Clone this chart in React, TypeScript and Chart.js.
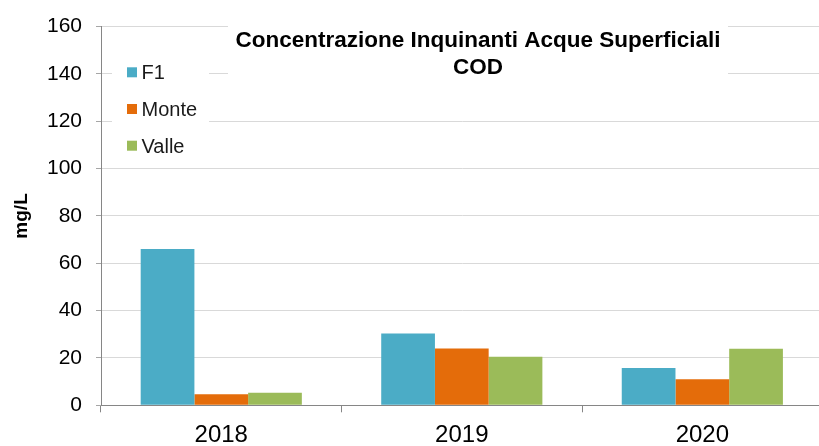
import React, { useEffect, useRef } from "react";
import { Chart, registerables } from "chart.js";

Chart.register(...registerables);

const categories = ["2018", "2019", "2020"];
const seriesNames = ["F1", "Monte", "Valle"];
const f1Values = [66, 30.3, 15.8];
const monteValues = [4.7, 24.0, 11.0];
const valleValues = [5.3, 20.5, 23.9];
const seriesColors = ["#4bacc6", "#e46c0a", "#9bbb59"];
const titleLines = ["Concentrazione Inquinanti Acque Superficiali", "COD"];
const yAxisTitle = "mg/L";
const yMin = 0;
const yMax = 160;
const yStep = 20;

const FONT = "'Liberation Sans', Arial, Helvetica, sans-serif";

const overlayPlugin = {
  id: "overlayTitleLegend",
  afterDatasetsDraw(chart: any) {
    const ctx = chart.ctx as CanvasRenderingContext2D;
    ctx.save();
    // Title box
    ctx.fillStyle = "#ffffff";
    ctx.fillRect(228, 8, 500, 92);
    ctx.fillStyle = "#000000";
    ctx.font = `bold 22.5px ${FONT}`;
    ctx.textAlign = "center";
    ctx.textBaseline = "alphabetic";
    ctx.fillText(titleLines[0], 478, 46.7);
    ctx.fillText(titleLines[1], 478, 73.5);
    // Legend box
    ctx.fillStyle = "#ffffff";
    ctx.fillRect(112, 50, 97, 110);
    ctx.font = `20px ${FONT}`;
    ctx.textAlign = "left";
    const baselines = [79.3, 116, 152.7];
    chart.data.datasets.forEach((ds: any, i: number) => {
      const b = baselines[i];
      ctx.fillStyle = ds.backgroundColor;
      ctx.fillRect(127, b - 12, 10, 10);
      ctx.fillStyle = "#1a1a1a";
      ctx.fillText(ds.label, 141.5, b);
    });
    ctx.restore();
  },
};

export default function App() {
  const canvasRef = useRef<HTMLCanvasElement | null>(null);

  useEffect(() => {
    if (!canvasRef.current) return;
    const valuesList = [f1Values, monteValues, valleValues];
    const chart = new Chart(canvasRef.current, {
      type: "bar",
      data: {
        labels: categories,
        datasets: seriesNames.map((name, i) => ({
          label: name,
          data: valuesList[i],
          backgroundColor: seriesColors[i],
          borderWidth: 0,
          categoryPercentage: 0.67,
          barPercentage: 1,
        })),
      },
      options: {
        animation: false,
        responsive: false,
        devicePixelRatio: 1,
        layout: { padding: { top: 23.7, right: 7.4, left: 0, bottom: 0 } },
        plugins: {
          legend: { display: false },
          title: { display: false },
          tooltip: { enabled: false },
        },
        font: { family: FONT },
        scales: {
          x: {
            type: "category",
            offset: true,
            grid: {
              display: true,
              offset: true,
              drawOnChartArea: false,
              drawTicks: true,
              tickLength: 7,
              color: "#868686",
            },
            border: { display: true, color: "#868686" },
            ticks: {
              color: "#000000",
              padding: 9,
              font: { family: FONT, size: 24 },
              maxRotation: 0,
            },
            afterFit(scale: any) {
              scale.height = 40.7;
            },
          },
          y: {
            min: yMin,
            max: yMax,
            ticks: {
              stepSize: yStep,
              color: "#000000",
              padding: 14,
              font: { family: FONT, size: 21 },
            },
            grid: {
              color: "#d9d9d9",
              tickColor: "#a6a6a6",
              tickLength: 5,
            },
            border: { display: true, color: "#868686" },
            title: {
              display: true,
              text: yAxisTitle,
              color: "#000000",
              font: { family: FONT, size: 19, weight: "bold" },
              padding: { top: 10, bottom: 0 },
            },
            afterFit(scale: any) {
              scale.width = 101;
            },
          },
        },
      },
      plugins: [overlayPlugin],
    } as any);
    return () => chart.destroy();
  }, []);

  return (
    <div
      style={{
        position: "absolute",
        left: 0,
        top: 0,
        width: 819,
        height: 446,
        overflow: "hidden",
        background: "#ffffff",
      }}
    >
      <canvas ref={canvasRef} width={830} height={446} style={{ display: "block" }} />
    </div>
  );
}
